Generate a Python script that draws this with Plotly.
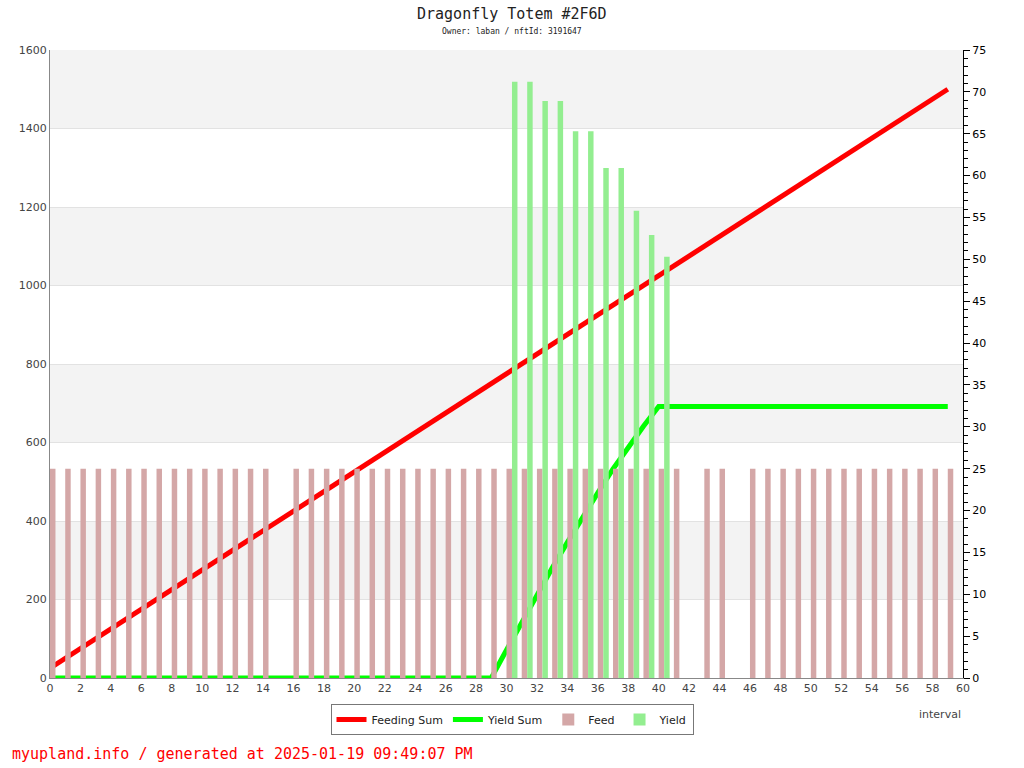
import plotly.graph_objects as go

intervals = list(range(60))

# Feed per interval (right axis); 0 = no feeding
feed = [25, 25, 25, 25, 25, 25, 25, 25, 25, 25,
        25, 25, 25, 25, 25, 0, 25, 25, 25, 25,
        25, 25, 25, 25, 25, 25, 25, 25, 25, 25,
        25, 25, 25, 25, 25, 25, 25, 25, 25, 25,
        25, 25, 0, 25, 25, 0, 25, 25, 25, 25,
        25, 25, 25, 25, 25, 25, 25, 25, 25, 25]

# Yield per interval (right axis)
yield_vals = [0] * 30 + [71.2, 71.2, 68.9, 68.9, 65.3, 65.3, 60.9, 60.9, 55.8, 52.9, 50.3] + [0] * 19

# Cumulative sums (left axis)
feeding_sum = [25, 50, 75, 100, 125, 150, 175, 200, 225, 250,
               275, 300, 325, 350, 375, 400, 425, 450, 475, 500,
               525, 550, 575, 600, 625, 650, 675, 700, 725, 750,
               775, 800, 825, 850, 875, 900, 925, 950, 975, 1000,
               1025, 1050, 1075, 1100, 1125, 1150, 1175, 1200, 1225, 1250,
               1275, 1300, 1325, 1350, 1375, 1400, 1425, 1450, 1475, 1500]
yield_sum = [0] * 30 + [71.2, 142.4, 211.3, 280.2, 345.5, 410.8, 471.7, 532.6, 588.4, 641.3, 691.6] + [691.6] * 19

left_ticks = [0, 200, 400, 600, 800, 1000, 1200, 1400, 1600]
right_ticks = list(range(0, 80, 5))
x_ticks = list(range(0, 62, 2))

title = "Dragonfly Totem #2F6D"
subtitle = "Owner: laban / nftId: 3191647"
footer = "myupland.info / generated at 2025-01-19 09:49:07 PM"

fig = go.Figure()

fig.add_trace(go.Bar(x=intervals, y=feed, width=0.36, offset=0.0, name="Feed",
                     marker=dict(color="#d4a7a7", line=dict(width=0)), yaxis="y2", legendrank=3))
fig.add_trace(go.Bar(x=intervals, y=yield_vals, width=0.36, offset=0.36, name="Yield",
                     marker=dict(color="#93ee90", line=dict(width=0)), yaxis="y2", legendrank=4))
fig.add_trace(go.Scatter(x=intervals, y=feeding_sum, mode="lines", name="Feeding Sum",
                         line=dict(color="#ff0000", width=5), legendrank=1))
fig.add_trace(go.Scatter(x=intervals, y=yield_sum, mode="lines", name="Yield Sum",
                         line=dict(color="#00ff00", width=5), legendrank=2))

# alternating background bands
shapes = []
for k in range(len(left_ticks) - 1):
    if k % 2 == 1:
        shapes.append(dict(type="rect", xref="paper", yref="y", x0=0, x1=1,
                           y0=left_ticks[k], y1=left_ticks[k + 1],
                           fillcolor="#f3f3f3", line=dict(width=0), layer="below"))

ph = 628.0
pw = 913.0
annotations = [
    dict(text=title, xref="paper", yref="paper", x=(512 - 50) / pw, y=1 + 36 / ph,
         xanchor="center", yanchor="middle", showarrow=False,
         font=dict(family="DejaVu Sans Mono", size=15, color="#222")),
    dict(text=subtitle, xref="paper", yref="paper", x=(512 - 50) / pw, y=1 + 19 / ph,
         xanchor="center", yanchor="middle", showarrow=False,
         font=dict(family="DejaVu Sans Mono", size=8, color="#222")),
    dict(text=footer, xref="paper", yref="paper", x=-40 / pw, y=-76 / ph,
         xanchor="left", yanchor="middle", showarrow=False,
         font=dict(family="DejaVu Sans Mono", size=15, color="#ff0000")),
    dict(text="interval", xref="paper", yref="paper", x=1, y=-36 / ph,
         xanchor="right", yanchor="middle", showarrow=False,
         font=dict(family="DejaVu Sans", size=11, color="#444")),
]

fig.update_layout(
    width=1024, height=768,
    margin=dict(l=50, r=61, t=50, b=90),
    paper_bgcolor="white", plot_bgcolor="white",
    barmode="overlay",
    showlegend=True,
    legend=dict(orientation="h", x=(512 - 50) / pw, xanchor="center", y=-26 / ph, yanchor="top",
                bordercolor="#777", borderwidth=1, font=dict(family="DejaVu Sans", size=11, color="#222"),
                itemwidth=30, traceorder="normal", tracegroupgap=0),
    xaxis=dict(range=[0, 60], tickvals=x_ticks, showgrid=False, zeroline=False,
               showline=True, linecolor="#888", linewidth=1, ticks="",
               tickfont=dict(family="DejaVu Sans", size=11, color="#444")),
    yaxis=dict(range=[0, 1600], tickvals=left_ticks, showgrid=True, gridcolor="#e2e2e2",
               zeroline=False, showline=True, linecolor="#888", linewidth=1, ticks="",
               tickfont=dict(family="DejaVu Sans", size=11, color="#444")),
    yaxis2=dict(range=[0, 75], tickvals=right_ticks, overlaying="y", side="right",
                showgrid=False, zeroline=False, showline=True, linecolor="#000", linewidth=1,
                ticks="outside", ticklen=6, tickcolor="#000",
                minor=dict(dtick=1, ticks="outside", ticklen=4, tickcolor="#000"),
                tickfont=dict(family="DejaVu Sans", size=11, color="#000")),
    shapes=shapes,
    annotations=annotations,
)

fig.write_html("out.html", config={"displayModeBar": False},
               post_script="document.body.style.margin='0px';document.body.style.overflow='hidden';")
